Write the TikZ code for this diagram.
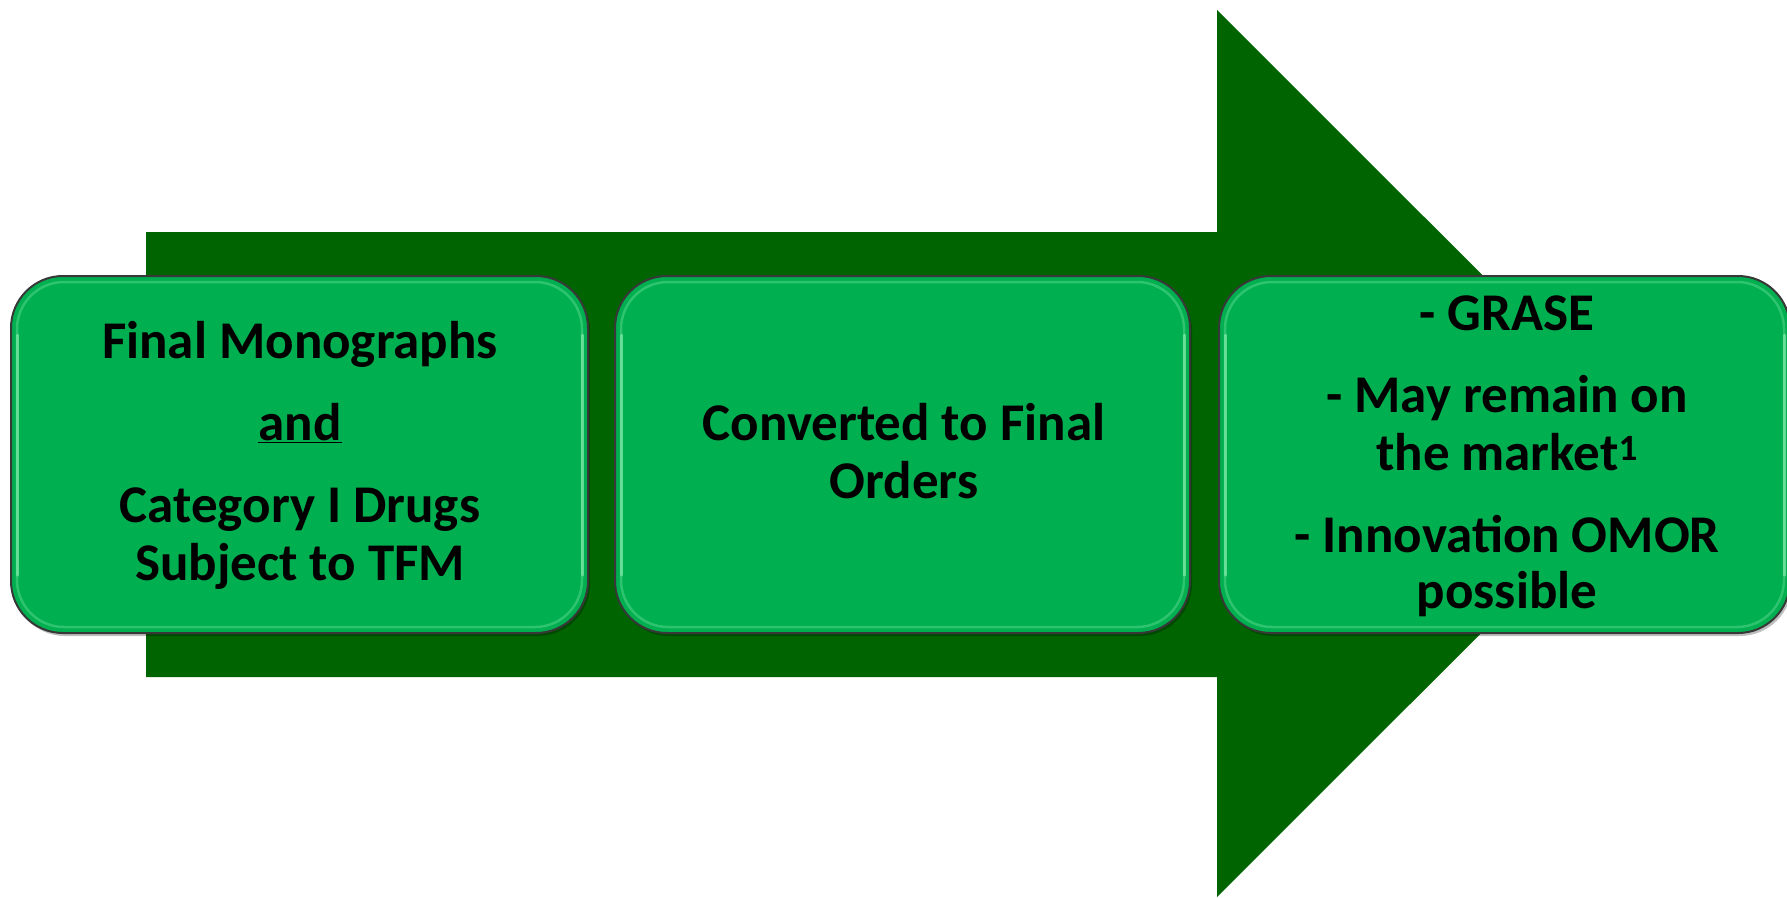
\documentclass[tikz,border=0pt]{standalone}
\usepackage{fontspec}
\setmainfont{Carlito}
\definecolor{arrowgreen}{RGB}{0,100,0}
\definecolor{boxgreen}{RGB}{0,175,80}
\definecolor{hlgreen}{RGB}{130,235,170}
\tikzset{
  gbox/.style={draw=black!78, line width=2pt, fill=boxgreen, rounded corners=52pt},
  boxshadow/.style={fill=black, opacity=0.25, rounded corners=52pt},
  hl/.style={draw=hlgreen, line width=2.5pt, opacity=0.35, rounded corners=47pt},
  hlside/.style={draw=hlgreen, line width=3pt, opacity=0.7, line cap=round},
  txt/.style={anchor=base, inner sep=0pt, font=\fontsize{53}{62}\selectfont\bfseries, text=black}
}
\begin{document}
\begin{tikzpicture}[x=1pt,y=-1pt]
\useasboundingbox (0,0) rectangle (1787,897);
% big arrow
\fill[arrowgreen] (146,232) -- (1217,232) -- (1217,10) -- (1661,453.5) -- (1217,897) -- (1217,677) -- (146,677) -- cycle;
% shadows
\fill[boxshadow] (13,279) rectangle (590,636);
\fill[boxshadow] (617,279) rectangle (1192,636);
\fill[boxshadow] (1221,279) rectangle (1792,636);
% boxes
\node[gbox, minimum width=577pt, minimum height=357pt, inner sep=0pt] (b1) at (299.5,454.5) {};
\node[gbox, minimum width=575pt, minimum height=357pt, inner sep=0pt] (b2) at (902.5,454.5) {};
\node[gbox, minimum width=571pt, minimum height=357pt, inner sep=0pt] (b3) at (1504.5,454.5) {};
% inner highlights
\draw[hl] (17,282) rectangle (582,627);
\draw[hl] (621,282) rectangle (1184,627);
\draw[hl] (1225,282) rectangle (1784,627);
\draw[hlside] (17,335) -- (17,575);
\draw[hlside] (582,335) -- (582,575);
\draw[hlside] (621,335) -- (621,575);
\draw[hlside] (1184,335) -- (1184,575);
\draw[hlside] (1225,335) -- (1225,575);
\draw[hlside] (1784,335) -- (1784,575);
% texts box 1
\node[txt] (t11) at (300,358) {Final Monographs};
\node[txt] (t12) at (300,440) {\underline{and}};
\node[txt] (t13) at (300,522) {Category I Drugs};
\node[txt] (t14) at (300,580) {Subject to TFM};
% box 2
\node[txt] (t21) at (904,440) {Converted to Final};
\node[txt] (t22) at (904,498) {Orders};
% box 3
\node[txt] (t31) at (1507,330) {- GRASE};
\node[txt] (t32) at (1507,412) {- May remain on};
\node[txt] (t33) at (1507,470) {the market\textsuperscript{1}};
\node[txt] (t34) at (1507,552) {- Innovation OMOR};
\node[txt] (t35) at (1507,608) {possible};
\end{tikzpicture}
\end{document}
